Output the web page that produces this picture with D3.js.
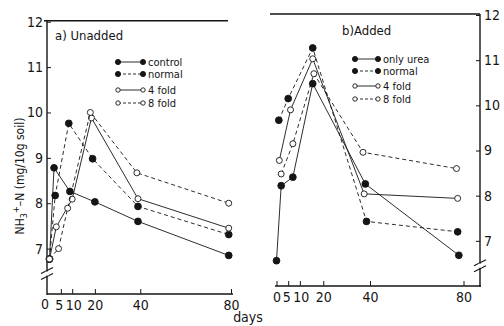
<!DOCTYPE html>
<html>
<head>
<meta charset="utf-8">
<script src="https://cdn.jsdelivr.net/npm/d3@7"></script>
<style>
body{margin:0;background:#fff}
svg{display:block}
text{font-family:"DejaVu Sans Condensed","Liberation Sans Narrow",sans-serif;fill:#151515}
</style>
</head>
<body>
<div id="chart"></div>
<script>
var dayTicks = [0, 5, 10, 20, 40, 80];
var nTicks = [7, 8, 9, 10, 11, 12];

// a) Unadded
var unaddedLabels = ["control", "normal", "4 fold", "8 fold"];
var unaddedDays = [
  [0, 2, 9, 20, 39, 79],
  [0, 2.5, 8.5, 19, 39, 79],
  [0, 3, 10, 18.5, 39, 79],
  [0, 4, 8, 18, 38.5, 79]
];
var unaddedValues = [
  [6.77, 8.78, 8.26, 8.03, 7.6, 6.85],
  [6.77, 8.17, 9.76, 8.98, 7.93, 7.31],
  [6.77, 7.48, 8.09, 9.88, 8.1, 7.45],
  [6.77, 7.0, 7.89, 10.0, 8.67, 8.0]
];

// b) Added
var addedLabels = ["only urea", "normal", "4 fold", "8 fold"];
var addedDays = [
  [0, 2, 7, 15.5, 38, 78],
  [1, 5, 15.5, 38.5, 77.5],
  [1.2, 6, 15.5, 37.5, 77.5],
  [2, 7, 16, 37, 77]
];
var addedValues = [
  [6.56, 8.22, 8.41, 10.48, 8.26, 6.68],
  [9.67, 10.15, 11.27, 7.43, 7.2],
  [8.78, 9.9, 11.03, 8.04, 7.94],
  [8.48, 9.15, 10.7, 8.96, 8.6]
];

// marker style per series: filled / dash
var filled = [true, true, false, false];
var dashed = [null, "4,3", null, "4,3"];

var W = 504, H = 326;
var ink = "#151515";

var svg = d3.select("#chart").append("svg")
  .attr("width", W)
  .attr("height", H);

svg.append("rect").attr("width", W).attr("height", H).attr("fill", "#fff");

function panel(opt){
  var x = d3.scaleLinear().domain([0, 80]).range(opt.xr);
  var y = d3.scaleLinear().domain([6, 12]).range(opt.yr);
  var g = svg.append("g");
  var y0 = y(6), y12 = y(12);

  // frame: top line
  g.append("line")
    .attr("x1", opt.topFrom).attr("x2", opt.topTo)
    .attr("y1", y12 - 1).attr("y2", y12 - 1)
    .attr("stroke", ink).attr("stroke-width", 1.4);

  // y axis
  var yAxis = opt.side == "left" ? d3.axisLeft(y) : d3.axisRight(y);
  var ya = g.append("g")
    .attr("transform", "translate(" + opt.axisX + ",0)")
    .call(yAxis.tickValues(nTicks).tickSize(-4).tickSizeOuter(0).tickPadding(4)
      .tickFormat(d3.format("d")));
  ya.select(".domain").remove();
  ya.append("line")
    .attr("x1", 0).attr("x2", 0)
    .attr("y1", y12 - 1).attr("y2", y0 + 1)
    .attr("stroke", ink).attr("stroke-width", 1.4);
  ya.selectAll(".tick line").attr("stroke", ink);
  ya.selectAll(".tick text")
    .style("font-size", "14px")
    .attr("fill", ink);

  // axis break
  var yb = y(6.45);
  [-3, 3].forEach(function(o){
    g.append("line")
      .attr("x1", opt.axisX - 6).attr("x2", opt.axisX + 6)
      .attr("y1", yb + o + 3).attr("y2", yb + o - 3)
      .attr("stroke", ink).attr("stroke-width", 1.1);
  });
  g.append("rect")
    .attr("x", opt.axisX - 1.5).attr("y", yb - 2)
    .attr("width", 3).attr("height", 4)
    .attr("fill", "#fff");

  // x axis
  var xa = g.append("g")
    .attr("transform", "translate(0," + y0 + ")")
    .call(d3.axisBottom(x).tickValues(opt.xTicks).tickSize(-5).tickSizeOuter(0).tickPadding(6)
      .tickFormat(d3.format("d")));
  xa.select(".domain").remove();
  xa.append("line")
    .attr("x1", opt.xFrom).attr("x2", opt.xTo)
    .attr("y1", 0).attr("y2", 0)
    .attr("stroke", ink).attr("stroke-width", 1.4);
  xa.selectAll(".tick line").attr("stroke", ink);
  xa.selectAll(".tick text")
    .style("font-size", "14px")
    .attr("fill", ink);
  xa.selectAll(".tick text").filter(function(d){ return d == 5; }).attr("dx", -2);
  xa.selectAll(".tick text").filter(function(d){ return d == 10; }).attr("dx", 1);

  // title
  g.append("text")
    .attr("x", opt.titleX).attr("y", opt.titleY)
    .style("font-size", "13px")
    .text(opt.title);

  // series
  var line = d3.line()
    .x(function(d){ return x(d[0]); })
    .y(function(d){ return y(d[1]); });

  opt.values.forEach(function(vals, s){
    var pts = vals.map(function(v, i){ return [opt.days[s][i], v]; });
    g.append("path")
      .datum(pts)
      .attr("d", line)
      .attr("fill", "none")
      .attr("stroke", ink)
      .attr("stroke-width", 0.9)
      .attr("stroke-dasharray", dashed[s]);
    g.selectAll(".pt" + s)
      .data(pts)
      .enter()
      .append("circle")
      .attr("class", "pt" + s)
      .attr("cx", function(d){ return x(d[0]); })
      .attr("cy", function(d){ return y(d[1]); })
      .attr("r", filled[s] ? 3.4 : 3)
      .attr("fill", filled[s] ? ink : "#fff")
      .attr("stroke", ink)
      .attr("stroke-width", 0.9);
  });

  // legend
  var lg = g.append("g").attr("transform", "translate(" + opt.legX + ",0)");
  opt.labels.forEach(function(lab, s){
    var ly = opt.legRows[s];
    lg.append("line")
      .attr("x1", 0).attr("x2", opt.legW)
      .attr("y1", ly).attr("y2", ly)
      .attr("stroke", ink)
      .attr("stroke-width", 0.9)
      .attr("stroke-dasharray", dashed[s] ? "3,2" : null);
    [0, opt.legW].forEach(function(cx){
      lg.append("circle")
        .attr("cx", cx).attr("cy", ly)
        .attr("r", filled[s] ? 2.6 : 2.2)
        .attr("fill", filled[s] ? ink : "#fff")
        .attr("stroke", ink)
        .attr("stroke-width", 0.9);
    });
    lg.append("text")
      .attr("x", opt.legW + 5).attr("y", ly + 3.5)
      .style("font-size", "11px")
      .style("white-space", "pre")
      .text(lab);
  });
}

panel({
  side: "left",
  xr: [49.5, 231], yr: [294, 21.7],
  axisX: 47, xFrom: 47, xTo: 233,
  topFrom: 44, topTo: 228,
  xTicks: dayTicks.slice(1),
  title: "a) Unadded", titleX: 55, titleY: 40,
  labels: unaddedLabels, days: unaddedDays, values: unaddedValues,
  legX: 118, legW: 25, legRows: [62, 74, 90, 103]
});

panel({
  side: "right",
  xr: [276.5, 463.5], yr: [286, 15],
  axisX: 480, xFrom: 275, xTo: 481,
  topFrom: 270, topTo: 480,
  xTicks: dayTicks,
  title: "b)Added", titleX: 342, titleY: 35,
  labels: addedLabels, days: addedDays, values: addedValues,
  legX: 355, legW: 23, legRows: [59, 71, 86, 99]
});

// left panel "0" label (tick sits on the y axis)
svg.append("text")
  .attr("x", 45).attr("y", 309)
  .attr("text-anchor", "middle")
  .style("font-size", "14px")
  .text(dayTicks[0]);

// axis titles
svg.append("text")
  .attr("x", 248).attr("y", 322)
  .attr("text-anchor", "middle")
  .style("font-size", "14px")
  .text("days");

var yl = svg.append("text")
  .attr("transform", "translate(24,176) rotate(-90)")
  .attr("text-anchor", "middle")
  .style("font-size", "12px");
yl.append("tspan").text("NH");
yl.append("tspan").attr("dy", 3).style("font-size", "9px").text("3");
yl.append("tspan").attr("dy", -8).style("font-size", "9px").text("+");
yl.append("tspan").attr("dy", 5).text("\u2013N (mg/10g soil)");
</script>
</body>
</html>
